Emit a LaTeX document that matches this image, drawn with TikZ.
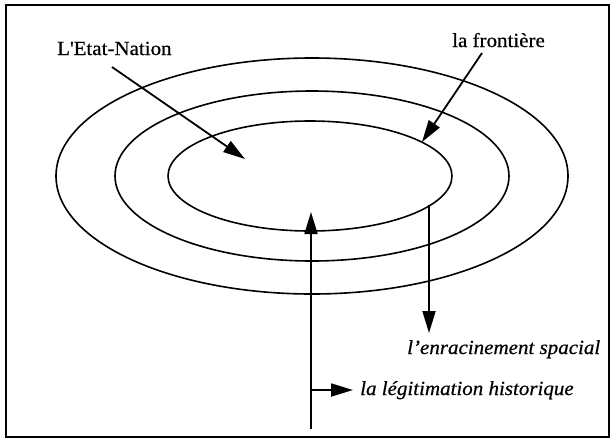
\documentclass[tikz,border=0pt]{standalone}
\usepackage{fontspec}
\setmainfont{Liberation Serif}[FakeStretch=1.05,FakeBold=0.6]
\usetikzlibrary{arrows.meta}
\tikzset{
  ring/.style={line width=1.6pt},
  pointer/.style={line width=1.8pt,-{Triangle[length=22pt,width=13pt]}},
  lbl/.style={anchor=base west,inner sep=0pt,font=\fontsize{20}{22}\selectfont},
  ilbl/.style={lbl,font=\fontsize{20}{22}\selectfont\itshape}
}
\begin{document}
\begin{tikzpicture}[x=1pt,y=-1pt]
\useasboundingbox (0,0) rectangle (613,440);
\draw[line width=1.6pt] (6,5) rectangle (609,437);
% rings
\draw[ring] (312,176) ellipse [x radius=256pt, y radius=118pt];
\draw[ring] (312,176) ellipse [x radius=197pt, y radius=85pt];
\draw[ring] (310,176) ellipse [x radius=142pt, y radius=55pt];
% labels
\node[lbl] (etat) at (57,55) {L\textquotesingle Etat-Nation};
\node[lbl] (front) at (452,47) {la frontière};
\node[ilbl] (enrac) at (407,354) {l’enracinement spacial};
\node[ilbl] (legit) at (360,395) {la légitimation historique};
% arrow end points
\coordinate (etatS) at (112,67);
\coordinate (etatT) at (245,159);
\coordinate (frontS) at (482,53);
\coordinate (frontT) at (422,142);
\coordinate (enracS) at (429,205);
\coordinate (enracT) at (429,333);
\coordinate (histS) at (311,429);
\coordinate (histT) at (311,212);
\coordinate (branch) at (311,390);
\coordinate (legitT) at (353,390);
% arrows
\draw[pointer] (etatS) -- (etatT);
\draw[pointer] (frontS) -- (frontT);
\draw[pointer] (enracS) -- (enracT);
\draw[pointer] (histS) -- (histT);
\draw[pointer] (branch) -- (legitT);
\end{tikzpicture}
\end{document}
